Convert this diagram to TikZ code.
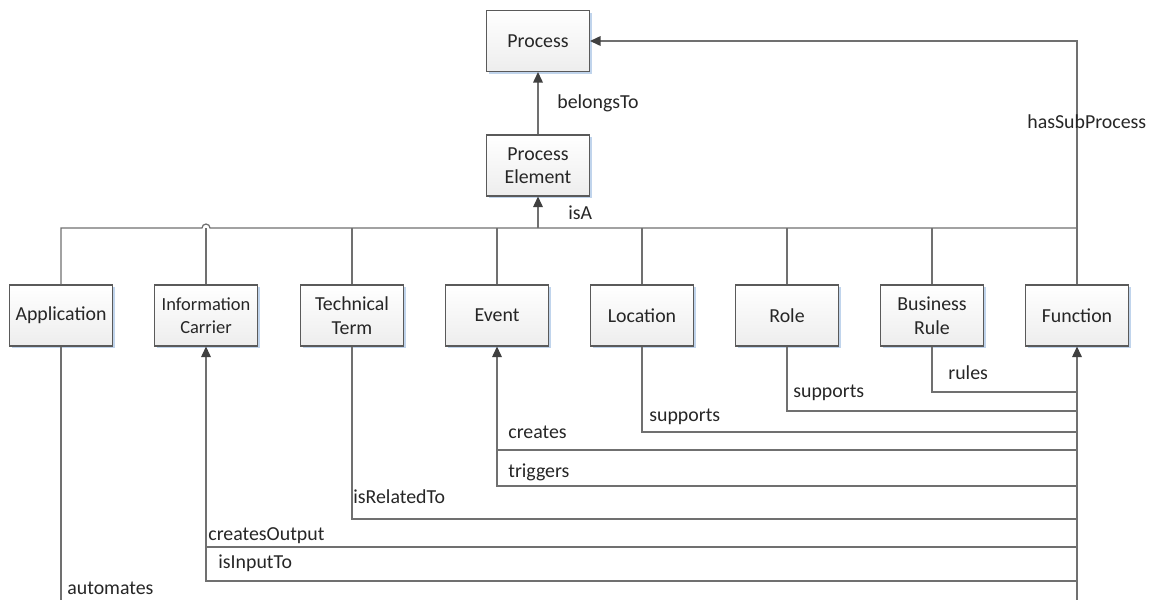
\documentclass[tikz,border=0pt]{standalone}
\usepackage{fontspec}
\setmainfont{Carlito}
\usetikzlibrary{arrows.meta,shadows}
\definecolor{linegray}{RGB}{112,112,112}
\definecolor{boxline}{RGB}{90,90,90}
\definecolor{tipgray}{RGB}{64,64,64}
\definecolor{txtgray}{RGB}{38,38,38}
\definecolor{shadowblue}{RGB}{192,212,236}
\newcommand{\lblfont}{\fontsize{11.3}{13.4}\selectfont}

\begin{document}
\begin{tikzpicture}[x=0.02cm, y=-0.02cm,
	box/.style={draw=boxline, line width=0.6pt, top color=white, bottom color=black!7, minimum width=2.06cm, minimum height=1.22cm, align=center, text=txtgray, font=\lblfont, drop shadow={shadow xshift=1.3pt, shadow yshift=-1.3pt, fill=shadowblue, opacity=1}},
	link/.style={draw=linegray, line width=0.7pt},
	arr/.style={link, -{Triangle[width=5.5pt,length=6pt,color=tipgray]}},
	lbl/.style={anchor=west, inner sep=0pt, text=txtgray, font=\lblfont}]
				\useasboundingbox (0,0) rectangle (1152,599);

				\node[box] (pr) at (538,41) {Process};
				\node[box] (pe) at (538,165.5) {Process\\Element};

				\node[box] (app) at (61,315.5) {Application};
				\node[box, font=\fontsize{10.5}{13.4}\selectfont] (ic) at (206,315.5) {Information\\Carrier};
				\node[box] (tt) at (352,315.5) {Technical\\Term};
				\node[box] (ev) at (497,315.5) {Event};
				\node[box] (loc) at (642,315.5) {Location};
				\node[box] (role) at (787,315.5) {Role};
				\node[box] (br) at (932,315.5) {Business\\Rule};
				\node[box] (fn) at (1077,315.5) {Function};

				% isA bus
				\draw[link] (app.north) |- (202,228) arc[start angle=180, end angle=0, radius=0.08cm] -- (fn.north |- 0,228);
				\foreach \n in {ic,tt,ev,loc,role,br} \draw[link] (\n.north) -- (\n.north |- 0,228);
				\draw[arr] (pe.south |- 0,228) -- (pe.south); % isA
				\draw[arr] (pe.north) -- (pr.south); % belongsTo
				\draw[arr] (fn.north) |- (pr.east); % hasSubProcess

				\draw[link] (br.south) |- (fn.south |- 0,392); % rules
				\draw[link] (role.south) |- (fn.south |- 0,411); % supports
				\draw[link] (loc.south) |- (fn.south |- 0,432); % supports
				\draw[link] (ev.south |- 0,450) -- (fn.south |- 0,450); % creates
				\draw[arr] (fn.south |- 0,486) -| (ev.south); % triggers
				\draw[link] (tt.south) |- (fn.south |- 0,519); % isRelatedTo
				\draw[link] (ic.south |- 0,547) -- (fn.south |- 0,547); % createsOutput
				\draw[arr] (fn.south |- 0,581) -| (ic.south); % isInputTo
				\draw[arr] (app.south) |- (fn.south |- 0,606) -- (fn.south); % automates

				\node[lbl] (l-bel) at (557,103) {belongsTo};
				\node[lbl] (l-isa) at (568,213) {isA};
				\node[lbl] (l-sub) at (1027,122) {hasSubProcess};
				\node[lbl] (l-rul) at (948,373) {rules};
				\node[lbl] (l-sup1) at (793,393) {supports};
				\node[lbl] (l-sup2) at (649,417) {supports};
				\node[lbl] (l-cre) at (508,432) {creates};
				\node[lbl] (l-trg) at (508,472) {triggers};
				\node[lbl] (l-rel) at (353,497) {isRelatedTo};
				\node[lbl] (l-out) at (208,536) {createsOutput};
				\node[lbl] (l-in) at (218,563) {isInputTo};
				\node[lbl] (l-aut) at (67,588) {automates};
			\end{tikzpicture}
\end{document}
